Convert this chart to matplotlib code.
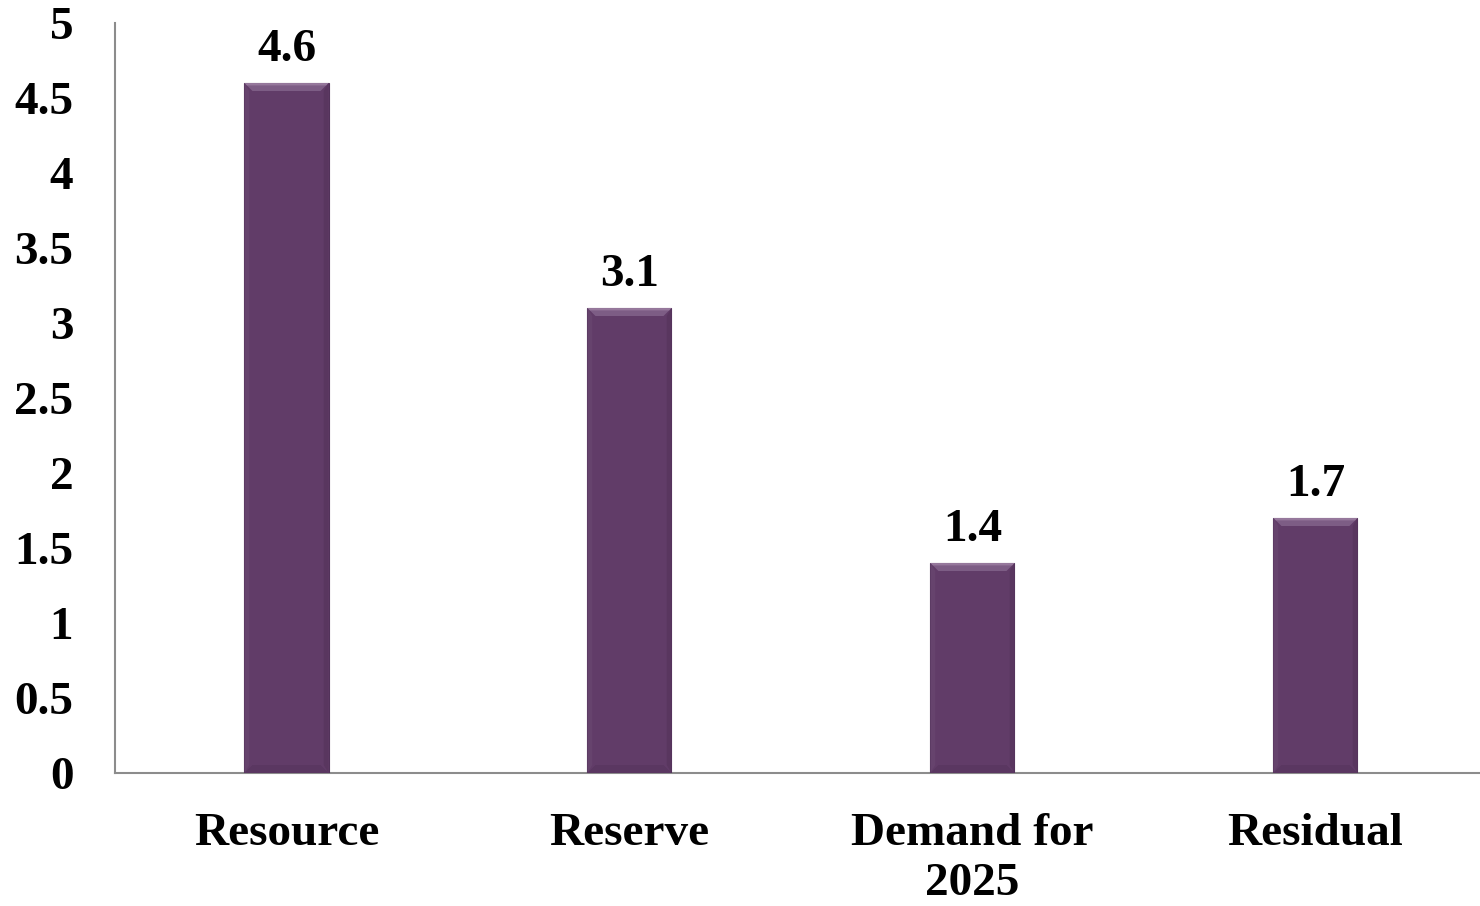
import matplotlib
matplotlib.use("Agg")
import matplotlib.pyplot as plt
from matplotlib.patches import Polygon

categories = ["Resource", "Reserve", "Demand for\n2025", "Residual"]
values = [4.6, 3.1, 1.4, 1.7]
yticks = [0, 0.5, 1, 1.5, 2, 2.5, 3, 3.5, 4, 4.5, 5]
ytick_labels = ["0", "0.5", "1", "1.5", "2", "2.5", "3", "3.5", "4", "4.5", "5"]

plt.rcParams['font.family'] = ['Liberation Serif', 'DejaVu Serif']
plt.rcParams['font.weight'] = 'bold'

fig = plt.figure(figsize=(14.8, 9.06), dpi=100)
ax = fig.add_axes([0.0777, 0.1468, 0.927, 0.8278])

bar_color = "#613C68"
x = list(range(len(categories)))
bars = ax.bar(x, values, width=0.245, color=bar_color, edgecolor="#52325a", linewidth=0.8, zorder=3)

ax.set_xlim(-0.5, len(categories) - 0.5)
ax.set_ylim(0, 5)
ax.set_yticks(yticks)
ax.set_yticklabels(ytick_labels, fontsize=34, fontweight='bold')
ax.set_xticks(x)
ax.set_xticklabels(categories, fontsize=34, fontweight='bold', linespacing=1.25)
ax.tick_params(axis='y', length=0, pad=30)
ax.tick_params(axis='x', length=0, pad=29)

for s in ['top', 'right']:
    ax.spines[s].set_visible(False)
for s in ['left', 'bottom']:
    ax.spines[s].set_color("#8c8c8c")
    ax.spines[s].set_linewidth(1.5)

fig.canvas.draw()
# bevel derived from bar geometry
inv = ax.transData.inverted()
p0 = inv.transform((0, 0))
p1 = inv.transform((8, 8))
dx = p1[0] - p0[0]
dy = p1[1] - p0[1]
for b in bars:
    x0 = b.get_x(); x1 = x0 + b.get_width(); y1 = b.get_height(); y0 = 0
    top = Polygon([(x0, y1), (x1, y1), (x1 - dx, y1 - dy), (x0 + dx, y1 - dy)],
                  closed=True, facecolor="#7d5d85", edgecolor='none', zorder=4)
    topline = Polygon([(x0, y1), (x1, y1), (x1 - dx * 0.3, y1 - dy * 0.3), (x0 + dx * 0.3, y1 - dy * 0.3)],
                      closed=True, facecolor="#96789c", edgecolor='none', zorder=5)
    left = Polygon([(x0, y0), (x0, y1), (x0 + dx * 0.6, y1 - dy), (x0 + dx * 0.6, y0 + dy)],
                   closed=True, facecolor="#66436d", edgecolor='none', zorder=4)
    right = Polygon([(x1, y0), (x1, y1), (x1 - dx * 0.6, y1 - dy), (x1 - dx * 0.6, y0 + dy)],
                    closed=True, facecolor="#59365f", edgecolor='none', zorder=4)
    bottom = Polygon([(x0, y0), (x1, y0), (x1 - dx, y0 + dy), (x0 + dx, y0 + dy)],
                     closed=True, facecolor="#5a3761", edgecolor='none', zorder=4)
    for p in (top, topline, left, right, bottom):
        ax.add_patch(p)

for xi, v in zip(x, values):
    ax.annotate(f"{v:g}", (xi, v), xytext=(0, 9), textcoords='offset points',
                ha='center', va='bottom', fontsize=34, fontweight='bold')

fig.savefig("out.png", dpi=100, facecolor='white')
